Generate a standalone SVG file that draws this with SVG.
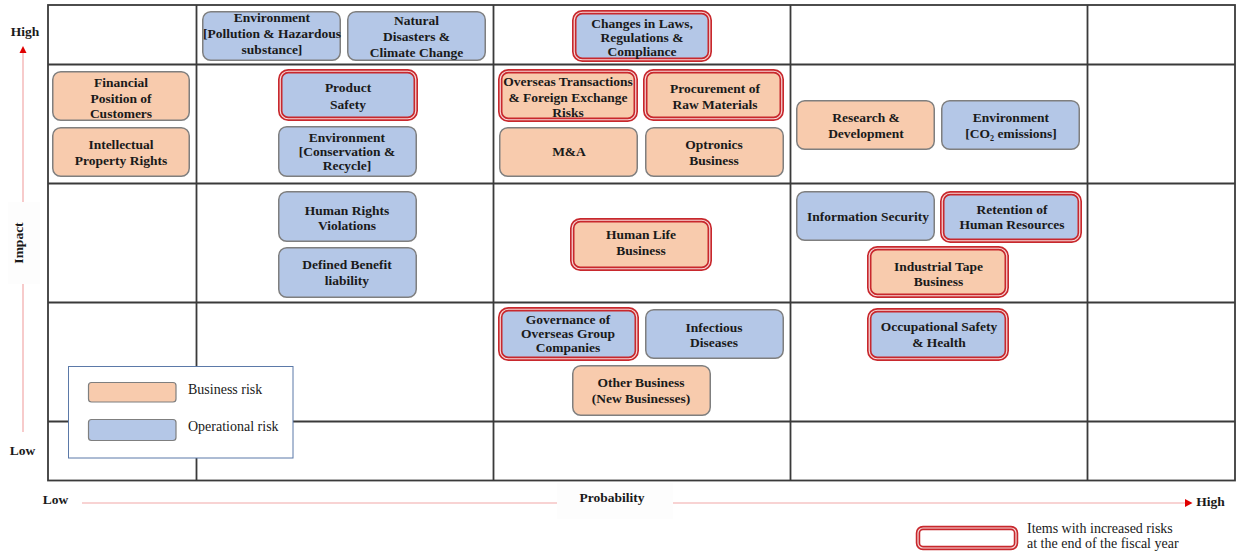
<svg xmlns="http://www.w3.org/2000/svg" width="1238" height="553" viewBox="0 0 1238 553">
<style>
text{font-family:"Liberation Serif","Times New Roman",serif;fill:#1a1a1a}
.n text{font-size:13.5px;font-weight:bold;text-anchor:middle}
.blue{fill:#b4c7e7;stroke:#7f7f7f;stroke-width:1.5}
.orange{fill:#f8cbad;stroke:#7f7f7f;stroke-width:1.5}
.rb{fill:#b4c7e7;stroke:#c8282d;stroke-width:4.5}
.ro{fill:#f8cbad;stroke:#c8282d;stroke-width:4.5}
.gap{fill:none;stroke:#f7d9d9;stroke-width:1.2}
.grid line{stroke:#3a3a3a;stroke-width:1.8}
.ax{stroke:#f2a8a8;stroke-width:1.2}
.axl{font-size:13.5px;font-weight:bold}
.leg{font-size:14px}
</style>
<rect width="1238" height="553" fill="#fff"/>
<g class="grid" id="grid">
<rect x="48" y="5" width="1187" height="475.5" fill="#fff" stroke="#3a3a3a" stroke-width="1.8"/>
<line x1="196.5" y1="5" x2="196.5" y2="480.5"/>
<line x1="493.5" y1="5" x2="493.5" y2="480.5"/>
<line x1="790.5" y1="5" x2="790.5" y2="480.5"/>
<line x1="1087.5" y1="5" x2="1087.5" y2="480.5"/>
<line x1="48" y1="64.5" x2="1235" y2="64.5"/>
<line x1="48" y1="183.5" x2="1235" y2="183.5"/>
<line x1="48" y1="302.5" x2="1235" y2="302.5"/>
<line x1="48" y1="421.5" x2="1235" y2="421.5"/>
</g>
<g id="axes">
<line class="ax" x1="23" y1="52" x2="23" y2="432"/>
<polygon points="23,46 19.5,53 26.5,53" fill="#e00000"/>
<rect x="8" y="202" width="32" height="82" fill="#fdfdfd"/>
<text class="axl" transform="translate(22.5,243) rotate(-90)" text-anchor="middle">Impact</text>
<text class="axl" x="25" y="35.5" text-anchor="middle">High</text>
<text class="axl" x="22.5" y="454.5" text-anchor="middle">Low</text>
<line class="ax" x1="82" y1="503" x2="1186" y2="503"/>
<polygon points="1185,499 1192.5,503 1185,507" fill="#e00000"/>
<rect x="557" y="483" width="116" height="36" fill="#fdfdfd"/>
<text class="axl" x="612" y="501.5" text-anchor="middle">Probability</text>
<text class="axl" x="55.5" y="503.5" text-anchor="middle">Low</text>
<text class="axl" x="1210.5" y="505.5" text-anchor="middle">High</text>
</g>
<g id="connectors"></g>
<g class="n" id="env-pollution"><rect class="blue" x="202.75" y="11.75" width="137.5" height="48.5" rx="8"/>
<text x="272" y="21.5">Environment</text><text x="272" y="37.5">[Pollution &amp; Hazardous</text><text x="272" y="53.5">substance]</text></g>
<g class="n" id="natural-disasters"><rect class="blue" x="347.75" y="11.75" width="137.5" height="48.5" rx="8"/>
<text x="416.5" y="24.5">Natural</text><text x="416.5" y="40.5">Disasters &amp;</text><text x="416.5" y="56.5">Climate Change</text></g>
<g class="n" id="changes-laws"><rect class="rb" x="574.25" y="12.25" width="135.5" height="47.5" rx="8"/><rect class="gap" x="574.25" y="12.25" width="135.5" height="47.5" rx="8"/>
<text x="642" y="27.5">Changes in Laws,</text><text x="642" y="41.5">Regulations &amp;</text><text x="642" y="55.5">Compliance</text></g>
<g class="n" id="financial-position"><rect class="orange" x="52.75" y="71.75" width="136.5" height="48.5" rx="8"/>
<text x="121" y="86.5">Financial</text><text x="121" y="102.5">Position of</text><text x="121" y="117.5">Customers</text></g>
<g class="n" id="intellectual-property"><rect class="orange" x="52.75" y="127.75" width="136.5" height="48.5" rx="8"/>
<text x="121" y="148.5">Intellectual</text><text x="121" y="165">Property Rights</text></g>
<g class="n" id="product-safety"><rect class="rb" x="280.25" y="71.25" width="135.5" height="47.5" rx="8"/><rect class="gap" x="280.25" y="71.25" width="135.5" height="47.5" rx="8"/>
<text x="348" y="92">Product</text><text x="348" y="108.5">Safety</text></g>
<g class="n" id="env-conservation"><rect class="blue" x="278.75" y="126.75" width="137.5" height="49.5" rx="8"/>
<text x="347" y="141.5">Environment</text><text x="347" y="155.5">[Conservation &amp;</text><text x="347" y="169.5">Recycle]</text></g>
<g class="n" id="overseas-transactions"><rect class="ro" x="500.25" y="71.25" width="135.5" height="48.5" rx="8"/><rect class="gap" x="500.25" y="71.25" width="135.5" height="48.5" rx="8"/>
<text x="568" y="85.5">Overseas Transactions</text><text x="568" y="101.5">&amp; Foreign Exchange</text><text x="568" y="116.5">Risks</text></g>
<g class="n" id="procurement"><rect class="ro" x="645.25" y="71.25" width="136.5" height="47.5" rx="8"/><rect class="gap" x="645.25" y="71.25" width="136.5" height="47.5" rx="8"/>
<text x="715" y="92.5">Procurement of</text><text x="715" y="108.5">Raw Materials</text></g>
<g class="n" id="m-and-a"><rect class="orange" x="499.75" y="127.75" width="137.5" height="48.5" rx="8"/>
<text x="569" y="155.5">M&amp;A</text></g>
<g class="n" id="optronics"><rect class="orange" x="645.75" y="127.75" width="137.5" height="48.5" rx="8"/>
<text x="714" y="148.5">Optronics</text><text x="714" y="164.5">Business</text></g>
<g class="n" id="research-development"><rect class="orange" x="796.75" y="100.75" width="137.5" height="48.5" rx="8"/>
<text x="866" y="121.5">Research &amp;</text><text x="866" y="137.5">Development</text></g>
<g class="n" id="env-co2"><rect class="blue" x="941.75" y="100.75" width="137.5" height="48.5" rx="8"/>
<text x="1011" y="121.5">Environment</text><text x="1011" y="137.5">[CO₂ emissions]</text></g>
<g class="n" id="human-rights"><rect class="blue" x="278.75" y="191.75" width="137.5" height="49.5" rx="8"/>
<text x="347" y="214.5">Human Rights</text><text x="347" y="230">Violations</text></g>
<g class="n" id="defined-benefit"><rect class="blue" x="278.75" y="247.75" width="137.5" height="49.5" rx="8"/>
<text x="347" y="268.5">Defined Benefit</text><text x="347" y="284.5">liability</text></g>
<g class="n" id="human-life"><rect class="ro" x="572.25" y="220.25" width="137.5" height="48.5" rx="8"/><rect class="gap" x="572.25" y="220.25" width="137.5" height="48.5" rx="8"/>
<text x="641" y="238.5">Human Life</text><text x="641" y="254.5">Business</text></g>
<g class="n" id="information-security"><rect class="blue" x="796.75" y="191.75" width="137.5" height="48.5" rx="8"/>
<text x="868" y="220.5">Information Security</text></g>
<g class="n" id="retention-human-resources"><rect class="rb" x="942.25" y="193.25" width="137.5" height="47.5" rx="8"/><rect class="gap" x="942.25" y="193.25" width="137.5" height="47.5" rx="8"/>
<text x="1012" y="213.5">Retention of</text><text x="1012" y="228.5">Human Resources</text></g>
<g class="n" id="industrial-tape"><rect class="ro" x="869.25" y="248.25" width="137.5" height="47.5" rx="8"/><rect class="gap" x="869.25" y="248.25" width="137.5" height="47.5" rx="8"/>
<text x="938.5" y="270.5">Industrial Tape</text><text x="938.5" y="285.5">Business</text></g>
<g class="n" id="governance-overseas"><rect class="rb" x="500.25" y="309.25" width="136.5" height="49.5" rx="8"/><rect class="gap" x="500.25" y="309.25" width="136.5" height="49.5" rx="8"/>
<text x="568" y="323.5">Governance of</text><text x="568" y="337.5">Overseas Group</text><text x="568" y="351.5">Companies</text></g>
<g class="n" id="infectious-diseases"><rect class="blue" x="645.75" y="309.75" width="137.5" height="48.5" rx="8"/>
<text x="714" y="331.5">Infectious</text><text x="714" y="346.5">Diseases</text></g>
<g class="n" id="other-business"><rect class="orange" x="572.75" y="365.75" width="137.5" height="49.5" rx="8"/>
<text x="641" y="386.5">Other Business</text><text x="641" y="402.5">(New Businesses)</text></g>
<g class="n" id="occupational-safety"><rect class="rb" x="869.25" y="310.25" width="137.5" height="48.5" rx="8"/><rect class="gap" x="869.25" y="310.25" width="137.5" height="48.5" rx="8"/>
<text x="939" y="331">Occupational Safety</text><text x="939" y="346.5">&amp; Health</text></g>
<g id="legend">
<rect x="68.5" y="366.5" width="224.5" height="91.5" fill="#fff" stroke="#5b79a8" stroke-width="1"/>
<rect class="orange" x="88.5" y="382.5" width="87.5" height="19.5" rx="3" style="stroke-width:1.2"/>
<rect class="blue" x="88.5" y="419.5" width="87.5" height="21" rx="3" style="stroke-width:1.2"/>
<text class="leg" x="188" y="393.5">Business risk</text>
<text class="leg" x="188" y="430.5">Operational risk</text>
</g>
<g id="legend-increased">
<rect x="918" y="528" width="98" height="20" rx="5" fill="#fff" stroke="#c8282d" stroke-width="4.5"/>
<rect x="918" y="528" width="98" height="20" rx="5" fill="none" stroke="#f7d9d9" stroke-width="1.2"/>
<text class="leg" x="1027" y="532.5">Items with increased risks</text>
<text class="leg" x="1027" y="547.5">at the end of the fiscal year</text>
</g>
</svg>
